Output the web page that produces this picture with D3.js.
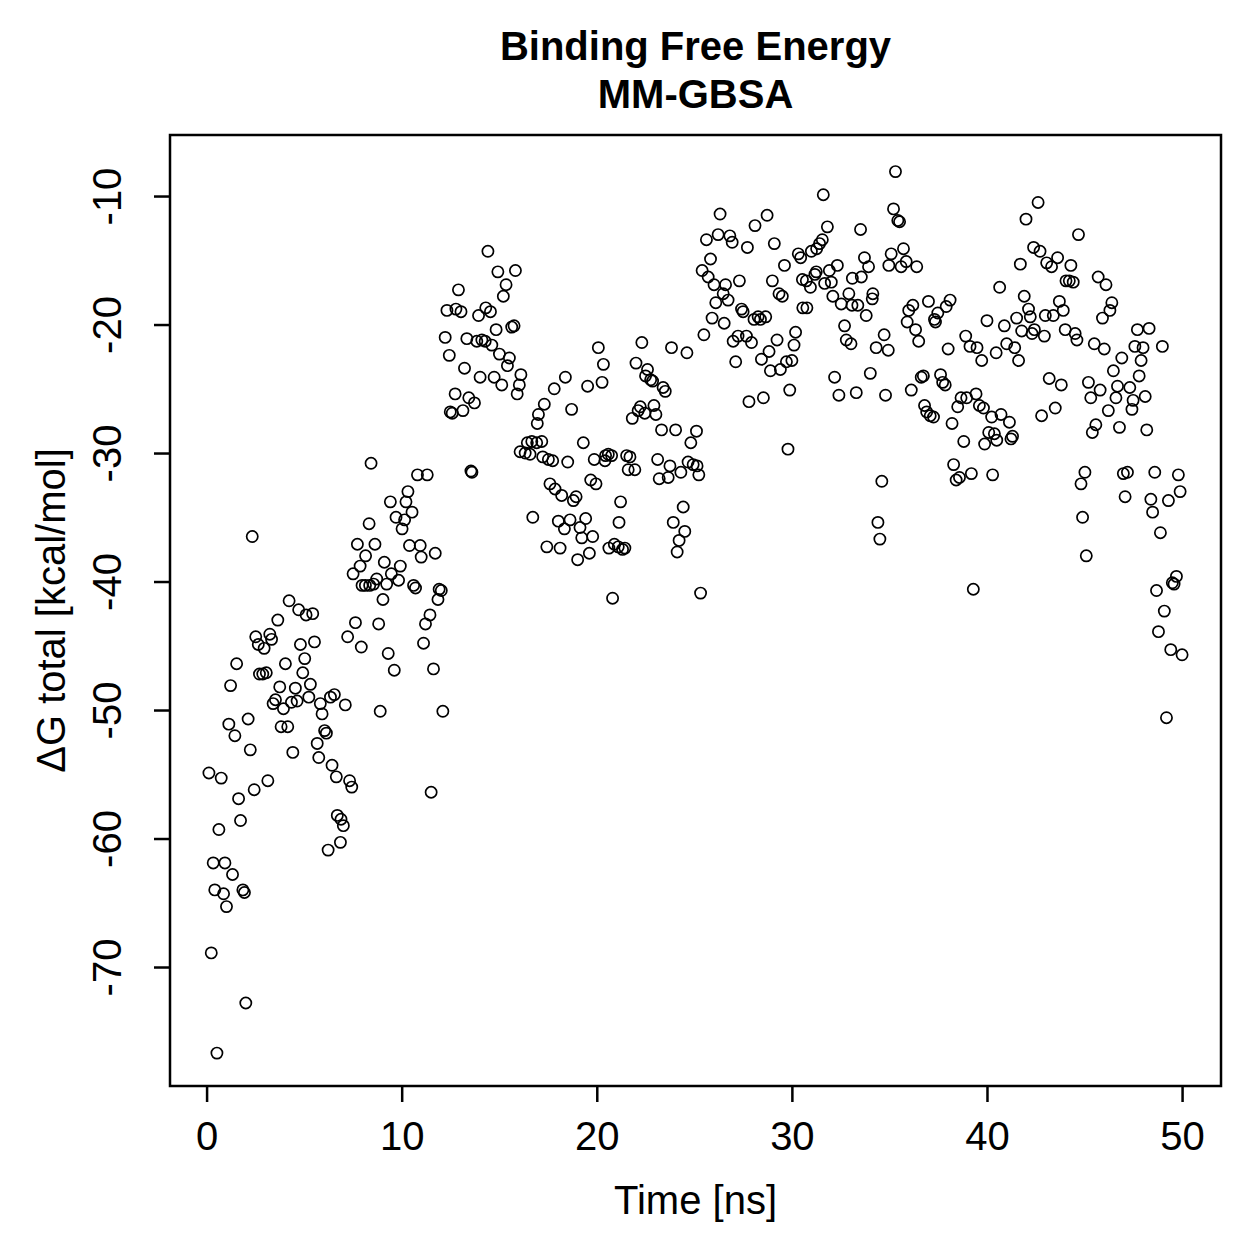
<!doctype html>
<html>
<head>
<meta charset="utf-8">
<style>
    body { margin: 0; background: #fff; }
    svg { display: block; }
    text { font-family: 'Liberation Sans', Arial, Helvetica, sans-serif; fill: #000; }
    .title { font-size: 40px; font-weight: bold; }
    .label { font-size: 40px; }
    .axis text { font-size: 40px; }
    .axis path { stroke: none; }
    .axis line { stroke: #000; stroke-width: 2.5; }
    .pt { fill: none; stroke: #000; stroke-width: 1.7; }
</style>
<script src="https://d3js.org/d3.v7.min.js"></script>
</head>
<body>
<svg width="1259" height="1259"></svg>
<script>
    // time [ns] and binding free energy [kcal/mol]
    const time = [
        0.12,0.24,0.34,0.42,0.53,0.63,0.75,0.94,0.87,1.02,
        1.14,1.23,1.33,1.45,1.54,1.64,1.74,1.86,1.94,2.01,
        2.13,2.24,2.34,2.44,2.52,2.65,2.71,2.88,2.95,3.06,
        3.14,3.24,3.33,3.41,3.53,3.65,3.75,3.82,3.94,4.04,
        4.16,4.23,4.35,4.42,4.55,4.64,4.72,4.81,4.93,5.03,
        5.10,5.24,5.32,5.44,5.53,5.67,5.75,5.83,5.92,6.05,
        6.14,6.23,6.35,6.43,6.55,6.65,6.70,6.86,6.89,7.01,
        7.11,7.23,7.33,7.44,7.51,7.63,7.73,7.87,7.93,7.97,
        8.14,8.15,8.33,8.36,8.43,8.56,8.63,8.72,8.82,8.90,
        9.04,9.11,9.23,9.31,9.42,9.47,9.62,9.71,9.84,9.93,
        10.02,10.15,10.22,10.32,10.40,10.53,10.61,10.71,10.81,10.95,
        11.00,11.12,11.22,11.31,11.45,11.51,11.63,11.72,11.86,11.92,
        12.03,12.11,
        12.23,12.32,12.44,12.49,12.59,12.74,12.78,12.91,13.04,13.14,
        13.22,13.34,13.44,13.55,13.60,13.73,13.85,13.94,14.02,14.11,
        14.28,14.31,14.42,14.55,14.62,14.74,14.84,14.93,15.01,15.13,
        15.21,15.35,15.42,15.52,15.64,15.76,15.83,15.92,16.03,16.11,
        16.07,16.33,16.44,16.58,16.67,16.72,16.92,16.95,17.01,17.18,
        17.23,17.31,17.44,17.52,17.60,17.74,17.82,17.86,18.03,18.12,
        18.20,18.34,18.39,18.51,18.63,18.71,18.80,18.94,19.02,19.14,
        19.23,19.31,19.43,19.53,19.62,19.69,19.79,19.87,19.96,20.08,
        20.34,20.27,20.45,20.42,20.59,20.62,20.76,20.81,20.90,21.10,
        21.14,21.22,21.32,21.44,21.53,21.61,21.70,21.82,21.95,22.01,
        22.12,22.23,22.31,22.46,22.50,22.60,22.76,22.86,22.93,23.03,
        23.12,23.20,23.32,23.40,23.51,23.66,23.75,23.83,23.92,24.04,
        24.12,24.22,24.31,24.43,24.51,24.62,24.68,24.82,24.94,25.11,
        25.14,25.23,25.32,25.40,25.49,25.62,25.71,25.83,25.91,26.01,
        26.10,26.22,26.32,26.48,26.53,26.60,26.73,26.82,26.94,26.99,
        27.12,27.24,27.31,27.42,27.50,27.67,27.72,27.80,27.93,28.06,
        28.11,28.27,28.39,28.44,28.54,28.66,28.73,28.83,28.90,29.00,
        29.10,29.24,29.34,29.41,29.51,29.62,29.72,29.80,29.89,30.00,
        30.11,30.19,30.33,30.45,30.54,30.56,30.74,30.77,30.95,31.00,
        31.18,31.25,31.27,31.42,31.56,31.61,31.68,31.82,31.92,32.02,
        32.10,32.19,32.33,32.41,32.53,32.70,32.79,32.92,33.03,33.08,
        33.10,33.30,33.52,33.38,33.56,33.72,33.81,33.93,34.02,34.12,
        34.15,34.32,34.41,34.51,34.61,34.73,34.80,34.94,34.97,35.09,
        35.21,35.31,35.43,35.52,35.60,35.72,35.86,35.91,35.99,36.12,
        36.20,36.34,36.40,36.50,36.63,36.74,36.80,36.91,37.00,37.09,
        37.26,37.31,37.36,37.48,37.62,37.73,37.86,37.91,38.01,38.11,
        38.21,38.29,38.42,38.50,38.59,38.67,38.81,38.91,38.96,39.13,
        39.20,39.30,39.44,39.49,39.61,39.73,39.82,39.88,40.00,40.09,
        40.24,40.29,40.38,40.47,40.50,40.65,40.72,40.89,41.01,41.15,
        41.23,41.31,41.42,41.52,41.62,41.71,41.78,41.91,42.00,42.13,
        42.22,42.31,42.39,42.43,42.62,42.72,42.80,42.94,42.99,43.06,
        43.19,43.31,43.40,43.50,43.62,43.71,43.81,43.91,44.01,44.05,
        44.22,44.30,44.42,44.52,44.61,44.69,44.82,44.90,45.02,45.09,
        45.20,45.32,45.40,45.50,45.58,45.70,45.80,45.92,46.01,46.10,
        46.22,46.30,46.40,46.48,46.61,46.69,46.79,46.91,46.99,47.08,
        47.20,47.32,47.43,47.49,47.58,47.71,47.80,47.90,48.00,48.11,
        48.19,48.31,48.40,48.49,48.60,48.69,48.79,48.89,48.99,49.09,
        49.20,49.30,49.42,49.50,49.59,49.71,49.81,49.90,50.00
    ];

    const dG = [
        -54.9,-68.9,-61.9,-64.0,-76.7,-59.3,-55.3,-61.9,-64.3,-65.3,
        -51.1,-48.1,-62.8,-52.0,-46.4,-56.9,-58.6,-64.0,-64.2,-72.8,
        -50.7,-53.1,-36.5,-56.2,-44.3,-44.9,-47.2,-47.2,-45.2,-47.1,
        -55.5,-44.1,-44.5,-49.5,-49.2,-43.0,-48.2,-51.3,-49.9,-46.4,
        -51.3,-41.5,-49.4,-53.3,-48.3,-49.3,-42.2,-44.9,-47.1,-46.0,
        -42.6,-49.0,-48.0,-42.5,-44.7,-52.6,-53.7,-49.5,-50.3,-51.6,
        -51.8,-60.9,-49.0,-54.3,-48.8,-55.2,-58.2,-60.3,-58.5,-59.0,
        -49.6,-44.3,-55.5,-56.0,-39.4,-43.2,-37.1,-38.8,-45.1,-40.3,
        -40.3,-38.0,-35.5,-40.3,-30.8,-40.2,-37.1,-39.8,-43.3,-50.1,
        -41.4,-38.5,-40.2,-45.6,-33.8,-39.4,-46.9,-35.0,-39.9,-38.8,
        -35.9,-35.2,-33.8,-33.0,-37.2,-34.6,-40.3,-40.5,-31.7,-37.2,
        -38.1,-44.8,-43.3,-31.7,-42.6,-56.4,-46.8,-37.8,-41.4,-40.6,
        -40.7,-50.1,
        -21.0,-18.9,-22.4,-26.8,-26.9,-25.4,-18.8,-17.3,-19.0,-26.7,
        -23.4,-21.1,-25.7,-31.4,-31.5,-26.1,-21.3,-19.3,-24.1,-21.2,
        -21.3,-18.7,-14.3,-19.0,-21.6,-24.1,-20.4,-15.9,-22.3,-24.7,
        -17.8,-16.9,-23.2,-22.6,-20.2,-20.1,-15.8,-25.4,-24.7,-23.9,
        -29.9,-30.0,-29.2,-30.1,-29.1,-35.0,-29.2,-27.7,-27.0,-29.1,
        -30.3,-26.2,-37.3,-30.5,-32.4,-30.6,-25.0,-32.8,-35.3,-37.4,
        -33.3,-35.9,-24.1,-30.7,-35.2,-26.6,-33.7,-33.4,-38.3,-35.8,
        -36.6,-29.2,-35.1,-24.8,-37.8,-32.1,-36.5,-30.5,-32.4,-21.8,
        -23.1,-24.5,-30.2,-30.6,-30.1,-37.4,-30.2,-41.3,-37.1,-37.3,
        -35.4,-33.8,-37.5,-37.4,-30.2,-31.3,-30.3,-27.3,-31.3,-23.0,
        -26.7,-26.4,-21.4,-26.9,-24.0,-23.5,-24.3,-24.4,-26.3,-27.0,
        -30.5,-32.0,-28.2,-24.9,-25.2,-31.9,-31.0,-21.8,-35.4,-28.2,
        -37.7,-36.8,-31.5,-34.2,-36.1,-22.2,-30.7,-29.2,-30.9,-28.3,
        -31.0,-31.7,-40.9,-15.8,-20.8,-13.4,-16.3,-14.9,-19.5,-16.9,
        -18.3,-13.0,-11.4,-17.6,-19.9,-16.9,-18.1,-13.1,-13.6,-21.3,
        -22.9,-20.9,-16.6,-18.8,-19.0,-20.9,-14.0,-26.0,-21.4,-19.6,
        -12.3,-19.4,-19.6,-22.7,-25.7,-19.4,-11.5,-22.1,-23.6,-16.6,
        -13.7,-21.2,-17.6,-23.5,-17.8,-15.4,-22.9,-29.7,-25.1,-22.8,
        -21.6,-20.6,-14.5,-14.8,-16.5,-18.7,-16.6,-18.7,-17.1,-14.3,
        -16.1,-15.9,-14.1,-13.7,-13.4,-9.9,-16.8,-12.4,-15.8,-16.7,
        -17.8,-24.1,-15.4,-25.5,-18.4,-20.1,-21.2,-17.6,-21.5,-18.5,
        -16.4,-25.3,-12.6,-18.5,-16.3,-14.8,-19.3,-15.5,-23.8,-18.0,
        -17.6,-21.8,-35.4,-36.7,-32.2,-20.8,-25.5,-22.0,-15.4,-14.5,
        -11.0,-8.1,-11.9,-12.0,-15.5,-14.1,-15.1,-19.8,-18.9,-25.1,
        -18.5,-20.4,-15.5,-21.3,-24.1,-24.0,-26.3,-26.8,-18.2,-27.1,
        -27.2,-19.6,-19.8,-19.1,-23.9,-24.5,-24.7,-18.6,-21.9,-18.1,
        -27.7,-30.9,-32.1,-26.4,-31.9,-25.7,-29.1,-20.9,-25.7,-21.7,
        -31.6,-40.6,-25.4,-21.8,-26.3,-22.8,-26.5,-29.3,-19.7,-28.4,
        -27.2,-31.7,-28.5,-22.2,-29.0,-17.1,-27.0,-20.1,-21.5,-27.6,
        -28.9,-28.7,-21.8,-19.5,-22.8,-15.3,-20.5,-17.8,-11.8,-18.8,
        -19.4,-20.7,-14.0,-20.4,-10.5,-14.3,-27.1,-20.9,-19.3,-15.2,
        -24.2,-15.5,-19.3,-26.5,-14.8,-18.2,-24.7,-18.9,-20.4,-16.6,
        -16.6,-15.4,-16.7,-20.7,-21.2,-13.0,-32.4,-35.0,-31.5,-38.0,
        -24.5,-25.7,-28.4,-21.5,-27.8,-16.3,-25.1,-19.5,-21.9,-16.9,
        -26.7,-18.9,-18.3,-23.6,-25.7,-24.8,-28.0,-22.6,-31.6,-33.4,
        -31.5,-24.9,-26.6,-25.9,-21.7,-20.4,-24.0,-22.8,-21.8,-25.6,
        -28.2,-20.3,-33.6,-34.6,-31.5,-40.7,-43.9,-36.2,-21.7,-42.3,
        -50.6,-33.7,-45.3,-40.1,-40.2,-39.6,-31.7,-33.0,-45.7
    ];

    const xTicks = [0, 10, 20, 30, 40, 50];
    const yTicks = [-70, -60, -50, -40, -30, -20, -10];

    const svg = d3.select('svg');

    // plot box (R style)
    const box = { left: 170, right: 1221, top: 135, bottom: 1086 };
    const tickLen = 16;

    // R pads the x range by 4% each side
    const pad = (ext) => {
        const r = ext[1] - ext[0];
        return [ext[0] - 0.04 * r, ext[1] + 0.04 * r];
    };

    const x = d3.scaleLinear()
        .domain(pad(d3.extent(time)))
        .range([box.left, box.right]);

    // y limits as on the original plot
    const y = d3.scaleLinear()
        .domain([-79.26, -5.25])
        .range([box.bottom, box.top]);

    const points = time.map((t, i) => ({ t: t, v: dG[i] }));

    svg.append('g')
        .selectAll('circle')
        .data(points)
        .enter()
        .append('circle')
        .attr('class', 'pt')
        .attr('cx', d => x(d.t))
        .attr('cy', d => y(d.v))
        .attr('r', 5.6);

    // x axis
    svg.append('g')
        .attr('class', 'axis')
        .attr('transform', `translate(0, ${box.bottom})`)
        .call(d3.axisBottom(x).tickValues(xTicks).tickSize(tickLen).tickPadding(20).tickFormat(d3.format('d')));

    // y axis, labels turned parallel to the axis
    const gy = svg.append('g')
        .attr('class', 'axis')
        .attr('transform', `translate(${box.left}, 0)`)
        .call(d3.axisLeft(y).tickValues(yTicks).tickSize(tickLen).tickFormat(d => String(d)));

    gy.selectAll('text')
        .attr('x', null)
        .attr('dy', null)
        .attr('text-anchor', 'middle')
        .attr('transform', 'translate(-49, 0) rotate(-90)');

    svg.append('rect')
        .attr('x', box.left)
        .attr('y', box.top)
        .attr('width', box.right - box.left)
        .attr('height', box.bottom - box.top)
        .attr('fill', 'none')
        .attr('stroke', '#000')
        .attr('stroke-width', 2.5);

    const cx = (box.left + box.right) / 2;
    const cy = (box.top + box.bottom) / 2;

    svg.append('text')
        .attr('class', 'title')
        .attr('x', cx)
        .attr('y', 60)
        .attr('text-anchor', 'middle')
        .text('Binding Free Energy');

    svg.append('text')
        .attr('class', 'title')
        .attr('x', cx)
        .attr('y', 108)
        .attr('text-anchor', 'middle')
        .text('MM-GBSA');

    svg.append('text')
        .attr('class', 'label')
        .attr('x', cx)
        .attr('y', 1214)
        .attr('text-anchor', 'middle')
        .text('Time [ns]');

    svg.append('text')
        .attr('class', 'label')
        .attr('transform', `translate(65, ${cy}) rotate(-90)`)
        .attr('text-anchor', 'middle')
        .text('ΔG total [kcal/mol]');
</script>
</body>
</html>
